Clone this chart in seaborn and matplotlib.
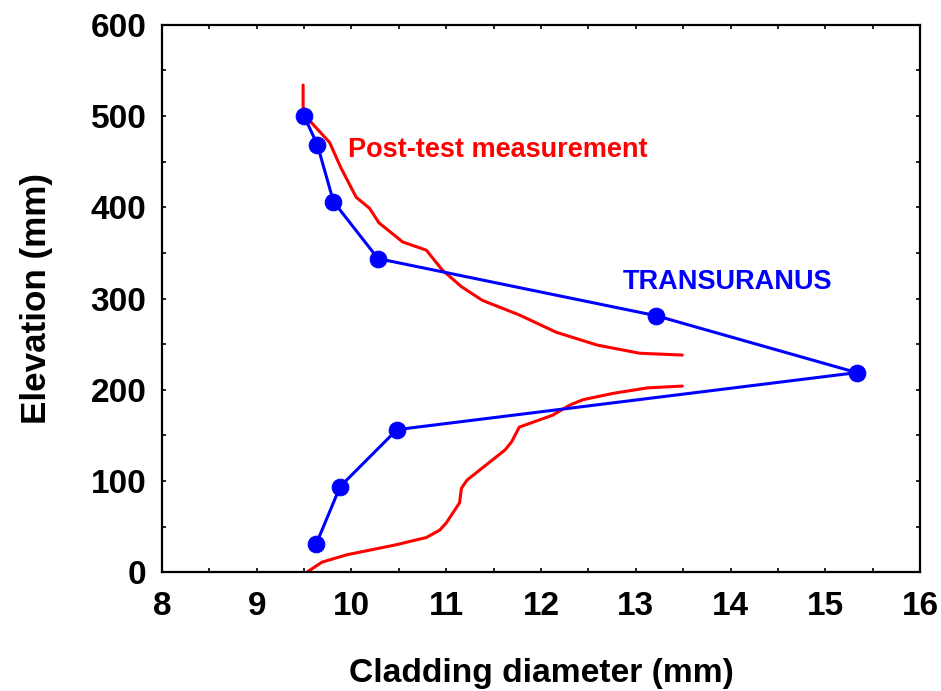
import numpy as np
import pandas as pd
import matplotlib
matplotlib.use("Agg")
import matplotlib.pyplot as plt
import seaborn as sns
from matplotlib.ticker import MultipleLocator

# TRANSURANUS calculation (diameter in mm, elevation in mm)
calc_diam = [9.63, 9.88, 10.48, 15.33, 13.21, 10.28, 9.81, 9.64, 9.50]
calc_elev = [31.25, 93.75, 156.25, 218.75, 281.25, 343.75, 406.25, 468.75, 500.0]

# post-test measurement, lower part (below the burst)
meas_low_diam = [9.53, 9.69, 9.95, 10.47, 10.79, 10.93, 11.00, 11.14, 11.16, 11.22,
                 11.62, 11.69, 11.77, 12.12, 12.30, 12.44, 12.76, 13.12, 13.49]
meas_low_elev = [0, 11, 19, 30, 38, 46, 54, 76, 92, 101,
                 134, 143, 159, 172, 183, 189, 196, 202, 204]

# post-test measurement, upper part
meas_up_diam = [13.49, 13.04, 12.59, 12.16, 11.77, 11.38, 11.16, 10.96, 10.79, 10.54,
                10.29, 10.19, 10.05, 9.89, 9.77, 9.55, 9.49, 9.49]
meas_up_elev = [238, 240, 249, 263, 282, 298, 313, 331, 353, 362,
                383, 399, 411, 443, 471, 496, 510, 534]

sns.set_style("ticks")
plt.rcParams['font.family'] = ['Liberation Sans', 'DejaVu Sans']
plt.rcParams['font.weight'] = 'bold'
plt.rcParams['text.color'] = 'black'
plt.rcParams['axes.labelcolor'] = 'black'
plt.rcParams['xtick.color'] = 'black'
plt.rcParams['ytick.color'] = 'black'

fig = plt.figure(figsize=(9.41, 6.91), dpi=100)
ax = fig.add_axes([0.172, 0.172, 0.806, 0.792])

red = "#ff0000"
blue = "#0000ff"

sns.lineplot(x=meas_low_diam, y=meas_low_elev, sort=False, estimator=None,
             color=red, linewidth=2.2, ax=ax)
sns.lineplot(x=meas_up_diam, y=meas_up_elev, sort=False, estimator=None,
             color=red, linewidth=2.2, ax=ax)
sns.lineplot(x=calc_diam, y=calc_elev, sort=False, estimator=None,
             color=blue, linewidth=2.2, marker="o", markersize=12,
             markeredgecolor=blue, markerfacecolor=blue, ax=ax)

ax.set_xlim(8, 16)
ax.set_ylim(0, 600)
ax.xaxis.set_major_locator(MultipleLocator(1))
ax.xaxis.set_minor_locator(MultipleLocator(0.5))
ax.yaxis.set_major_locator(MultipleLocator(100))
ax.yaxis.set_minor_locator(MultipleLocator(50))
ax.tick_params(which="both", direction="in", top=True, right=True,
               length=3, width=1.2, color="black", labelsize=24,
               labelcolor="black")
ax.tick_params(axis="x", which="major", pad=13.5)
ax.tick_params(axis="y", which="major", pad=11)
for sp in ax.spines.values():
    sp.set_visible(True)
    sp.set_linewidth(1.6)
    sp.set_color("black")

ax.set_xlabel("Cladding diameter (mm)", fontsize=24.2, fontweight="bold",
              labelpad=26, color="black")
ax.set_ylabel("Elevation (mm)", fontsize=25.2, fontweight="bold",
              labelpad=27, color="black")

ax.text(9.96, 463, "Post-test measurement", color=red, fontsize=19.5,
        fontweight="bold", va="center", ha="left")
ax.text(12.86, 318, "TRANSURANUS", color=blue, fontsize=19.5,
        fontweight="bold", va="center", ha="left")

fig.savefig("out.png", dpi=100)
